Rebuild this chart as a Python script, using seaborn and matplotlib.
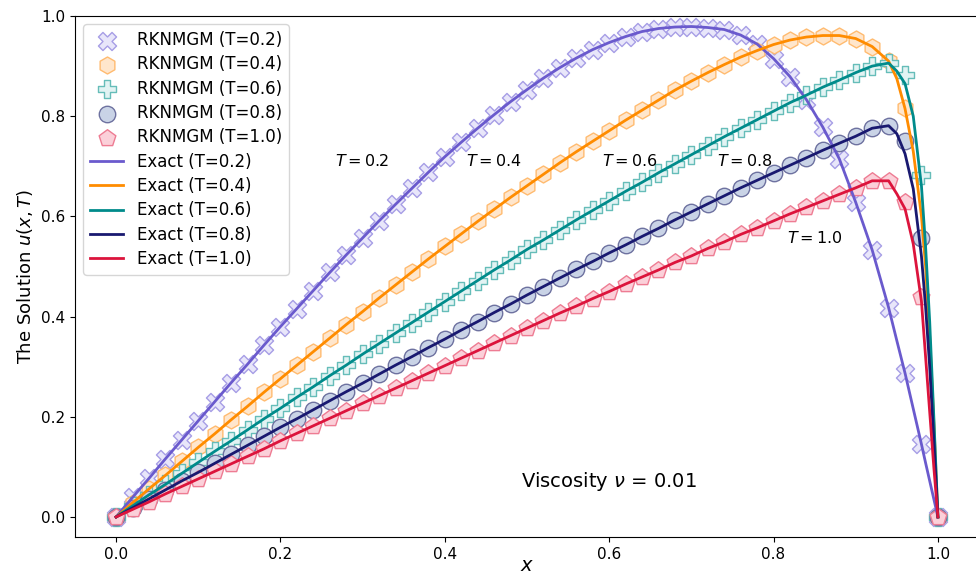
import numpy as np
import matplotlib
matplotlib.use("Agg")
import matplotlib.pyplot as plt
import seaborn as sns

# --- data ---
x_num = np.round(np.arange(51) * 0.02, 2)

u02 = [0, 0.039, 0.077, 0.116, 0.154, 0.192, 0.230, 0.268, 0.305, 0.343, 0.380,
       0.416, 0.452, 0.488, 0.523, 0.557, 0.591, 0.624, 0.656, 0.688, 0.719,
       0.748, 0.776, 0.803, 0.829, 0.853, 0.876, 0.897, 0.916, 0.933, 0.947,
       0.959, 0.969, 0.975, 0.978, 0.979, 0.977, 0.973, 0.962, 0.944, 0.915,
       0.879, 0.833, 0.778, 0.715, 0.628, 0.533, 0.418, 0.287, 0.145, 0.0]
u04 = [0, 0.028, 0.056, 0.083, 0.111, 0.139, 0.166, 0.194, 0.221, 0.249, 0.276,
       0.303, 0.330, 0.357, 0.384, 0.410, 0.437, 0.463, 0.489, 0.515, 0.540,
       0.565, 0.590, 0.614, 0.638, 0.661, 0.684, 0.707, 0.729, 0.750, 0.771,
       0.792, 0.812, 0.832, 0.852, 0.870, 0.887, 0.903, 0.918, 0.931, 0.943,
       0.952, 0.958, 0.961, 0.961, 0.955, 0.939, 0.910, 0.816, 0.557, 0.0]
u06 = [0, 0.022, 0.044, 0.065, 0.087, 0.109, 0.131, 0.152, 0.174, 0.196, 0.217,
       0.239, 0.260, 0.282, 0.303, 0.325, 0.346, 0.367, 0.388, 0.409, 0.430,
       0.451, 0.472, 0.493, 0.513, 0.534, 0.553, 0.573, 0.593, 0.612, 0.631,
       0.650, 0.668, 0.687, 0.705, 0.723, 0.741, 0.759, 0.776, 0.793, 0.810,
       0.827, 0.842, 0.858, 0.872, 0.887, 0.900, 0.906, 0.882, 0.683, 0.0]
u08 = [0, 0.018, 0.036, 0.054, 0.072, 0.089, 0.107, 0.125, 0.143, 0.161, 0.179,
       0.196, 0.214, 0.232, 0.250, 0.267, 0.285, 0.303, 0.320, 0.338, 0.355,
       0.373, 0.390, 0.408, 0.425, 0.443, 0.460, 0.477, 0.494, 0.510, 0.527,
       0.543, 0.560, 0.576, 0.593, 0.609, 0.625, 0.641, 0.657, 0.672, 0.687,
       0.702, 0.717, 0.732, 0.746, 0.760, 0.776, 0.781, 0.751, 0.556, 0.0]
u10 = [0, 0.015, 0.030, 0.046, 0.061, 0.076, 0.091, 0.106, 0.121, 0.136, 0.152,
       0.167, 0.182, 0.197, 0.212, 0.227, 0.242, 0.257, 0.272, 0.287, 0.302,
       0.317, 0.332, 0.347, 0.362, 0.377, 0.392, 0.407, 0.421, 0.436, 0.450,
       0.465, 0.479, 0.493, 0.508, 0.521, 0.536, 0.549, 0.564, 0.577, 0.591,
       0.605, 0.618, 0.631, 0.644, 0.657, 0.671, 0.671, 0.629, 0.440, 0.0]

# exact solution: same as above up to x=0.94, then the steep drop near x=1
x_tail = [0.95, 0.96, 0.97, 0.98, 0.985, 0.99, 0.995, 1.0]
tail02 = [0.352, 0.287, 0.216, 0.145, 0.108, 0.072, 0.036, 0.0]
tail04 = [0.875, 0.815, 0.730, 0.600, 0.500, 0.360, 0.190, 0.0]
tail06 = [0.890, 0.865, 0.800, 0.660, 0.540, 0.390, 0.200, 0.0]
tail08 = [0.765, 0.725, 0.655, 0.520, 0.420, 0.300, 0.155, 0.0]
tail10 = [0.645, 0.615, 0.545, 0.430, 0.320, 0.210, 0.100, 0.0]

times = ["0.2", "0.4", "0.6", "0.8", "1.0"]
num_sol = [u02, u04, u06, u08, u10]
tails = [tail02, tail04, tail06, tail08, tail10]

line_colors = ["#6a5acd", "#ff8c00", "#008b8b", "#191970", "#dc143c"]
face_colors = ["#e8e6fa", "#ffe6cc", "#e2f3f3", "#c9d3e6", "#fbd0d9"]
edge_colors = ["#a79ee6", "#ffbb70", "#66bdb9", "#6e72a0", "#ee7c93"]
markers = ["X", "h", "P", "o", "p"]
msizes = [170, 150, 150, 140, 160]

fig = plt.figure(figsize=(9.76, 5.75), dpi=100)
ax = fig.add_axes([75 / 976, 38 / 575, 904 / 976, 521 / 575])

# numerical solution markers
for i, t in enumerate(times):
    sns.scatterplot(x=x_num, y=num_sol[i], marker=markers[i], s=msizes[i],
                    color=face_colors[i], edgecolor=edge_colors[i], linewidth=1.0,
                    label=f"RKNMGM (T={t})", ax=ax, zorder=2)

# exact solution lines
keep = x_num <= 0.94
for i, t in enumerate(times):
    xe = np.concatenate([x_num[keep], x_tail])
    ye = np.concatenate([np.array(num_sol[i])[keep], tails[i]])
    sns.lineplot(x=xe, y=ye, color=line_colors[i], lw=2,
                 label=f"Exact (T={t})", ax=ax, zorder=3)

# curve annotations
ax.text(0.30, 0.71, "$T=0.2$", fontsize=11.5, ha="center", va="center")
ax.text(0.46, 0.71, "$T=0.4$", fontsize=11.5, ha="center", va="center")
ax.text(0.625, 0.71, "$T=0.6$", fontsize=11.5, ha="center", va="center")
ax.text(0.765, 0.71, "$T=0.8$", fontsize=11.5, ha="center", va="center")
ax.text(0.85, 0.557, "$T=1.0$", fontsize=11.5, ha="center", va="center")
ax.text(0.60, 0.07, r"Viscosity $\nu$ = 0.01", fontsize=14, ha="center", va="center")

ax.set_xlim(-0.05, 1.05)
ax.set_ylim(-0.04, 1.0)
ax.set_xlabel("$x$", fontsize=14, labelpad=-4)
ax.set_ylabel("The Solution $u(x,T)$", fontsize=13)
ax.tick_params(labelsize=11)
ax.legend(loc="upper left", fontsize=12, labelspacing=0.38)

fig.savefig("out.png", dpi=100)
